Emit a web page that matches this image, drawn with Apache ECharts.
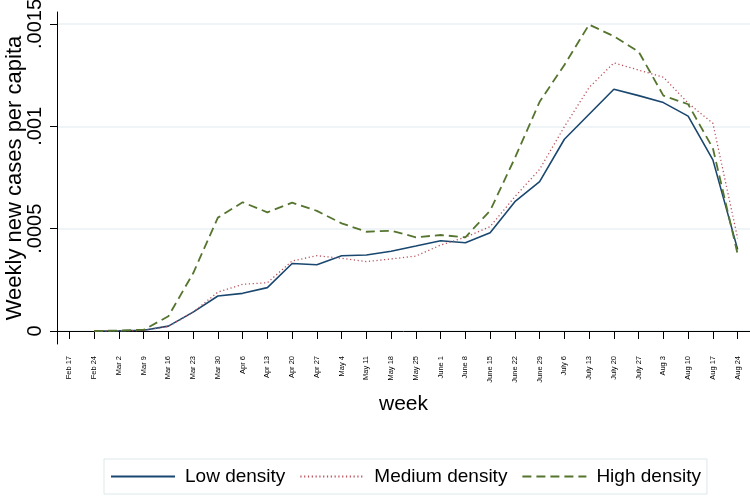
<!DOCTYPE html>
<html>
<head>
<meta charset="utf-8">
<script src="https://cdn.jsdelivr.net/npm/echarts@6/dist/echarts.min.js"></script>
<style>
html,body{margin:0;padding:0;background:#fff;}
#chart{width:750px;height:496px;}
</style>
</head>
<body>
<div id="chart"></div>
<script>
var categories = ['Feb 17','Feb 24','Mar 2','Mar 9','Mar 16','Mar 23','Mar 30','Apr 6','Apr 13','Apr 20','Apr 27','May 4','May 11','May 18','May 25','June 1','June 8','June 15','June 22','June 29','July 6','July 13','July 20','July 27','Aug 3','Aug 10','Aug 17','Aug 24'];
var lowDensity = [null, 0, 0.000001, 0.000004, 0.000024, 0.000092, 0.000171, 0.000184, 0.000212, 0.000330, 0.000324, 0.000368, 0.000371, 0.000390, 0.000415, 0.000441, 0.000431, 0.000480, 0.000632, 0.000730, 0.000937, 0.001059, 0.001181, 0.001150, 0.001116, 0.001050, 0.000836, 0.000399];
var mediumDensity = [null, 0, 0.000001, 0.000003, 0.000022, 0.000092, 0.000190, 0.000228, 0.000236, 0.000342, 0.000368, 0.000355, 0.000339, 0.000352, 0.000366, 0.000420, 0.000458, 0.000510, 0.000656, 0.000790, 0.000998, 0.001190, 0.001310, 0.001275, 0.001240, 0.001113, 0.001015, 0.000453];
var highDensity = [null, 0, 0.000002, 0.000006, 0.000072, 0.000282, 0.000554, 0.000629, 0.000580, 0.000627, 0.000587, 0.000526, 0.000485, 0.000490, 0.000458, 0.000469, 0.000458, 0.000588, 0.000845, 0.001120, 0.001300, 0.001497, 0.001440, 0.001365, 0.001150, 0.001108, 0.000893, 0.000376];
var yTickValues = [0, 0.0005, 0.001, 0.0015];
var yTickLabels = ['0', '.0005', '.001', '.0015'];
var seriesNames = ['Low density', 'Medium density', 'High density'];

var FONT = 'Liberation Sans, Arial, Helvetica, sans-serif';
var chart = echarts.init(document.getElementById('chart'), null, {renderer: 'canvas'});
chart.setOption({
  backgroundColor: '#ffffff',
  animation: false,
  textStyle: {fontFamily: FONT, color: '#000'},
  grid: {left: 57, right: 0, top: 12, bottom: 152, containLabel: false, outerBoundsMode: 'none'},
  legend: {
    left: 104, top: 459,
    orient: 'horizontal',
    padding: [8, 6, 8, 6],
    itemWidth: 64, itemHeight: 14, itemGap: 14,
    borderColor: '#dde7ea', borderWidth: 1, backgroundColor: '#fff',
    itemStyle: {opacity: 0},
    textStyle: {fontSize: 19, color: '#000', fontFamily: FONT, padding: [0, 0, 0, 5]},
    data: seriesNames
  },
  xAxis: {
    type: 'category',
    data: categories,
    boundaryGap: true,
    name: 'week',
    nameLocation: 'middle',
    nameGap: 50,
    nameMoveOverlap: false,
    nameTextStyle: {fontSize: 21, color: '#000', fontFamily: FONT},
    axisLine: {show: true, lineStyle: {color: '#000', width: 1}},
    axisTick: {show: true, alignWithLabel: true, interval: 0, length: 8, lineStyle: {color: '#000', width: 1}},
    axisLabel: {interval: 0, rotate: 90, fontSize: 7.5, margin: 12, color: '#000', fontFamily: FONT},
    splitLine: {show: false}
  },
  yAxis: {
    type: 'value',
    min: -0.0000635,
    max: 0.0015586,
    name: 'Weekly new cases per capita',
    nameLocation: 'middle',
    nameRotate: 90,
    nameGap: 31,
    nameMoveOverlap: false,
    nameTextStyle: {fontSize: 22, color: '#000', fontFamily: FONT},
    axisLine: {show: true, lineStyle: {color: '#000', width: 1}},
    axisTick: {show: true, length: 7, customValues: yTickValues, lineStyle: {color: '#000', width: 1}},
    axisLabel: {
      customValues: yTickValues,
      rotate: 90, fontSize: 20, margin: 12, color: '#000', fontFamily: FONT,
      formatter: function (v) {
        for (var i = 0; i < yTickValues.length; i++) {
          if (Math.abs(v - yTickValues[i]) < 1e-9) return yTickLabels[i];
        }
        return '';
      }
    },
    splitLine: {show: true, lineStyle: {color: '#eaf2f3', width: 1.5}}
  },
  series: [
    {name: seriesNames[0], type: 'line', data: lowDensity, symbol: 'none', connectNulls: false,
     lineStyle: {color: '#1a476f', width: 1.6, type: 'solid'}, itemStyle: {color: '#1a476f'}},
    {name: seriesNames[1], type: 'line', data: mediumDensity, symbol: 'none', connectNulls: false,
     lineStyle: {color: '#b8505c', width: 1.3, type: [1.2, 2.6]}, itemStyle: {color: '#b8505c'}},
    {name: seriesNames[2], type: 'line', data: highDensity, symbol: 'none', connectNulls: false,
     lineStyle: {color: '#55752f', width: 1.8, type: [9, 5]}, itemStyle: {color: '#55752f'}}
  ]
});
</script>
</body>
</html>
